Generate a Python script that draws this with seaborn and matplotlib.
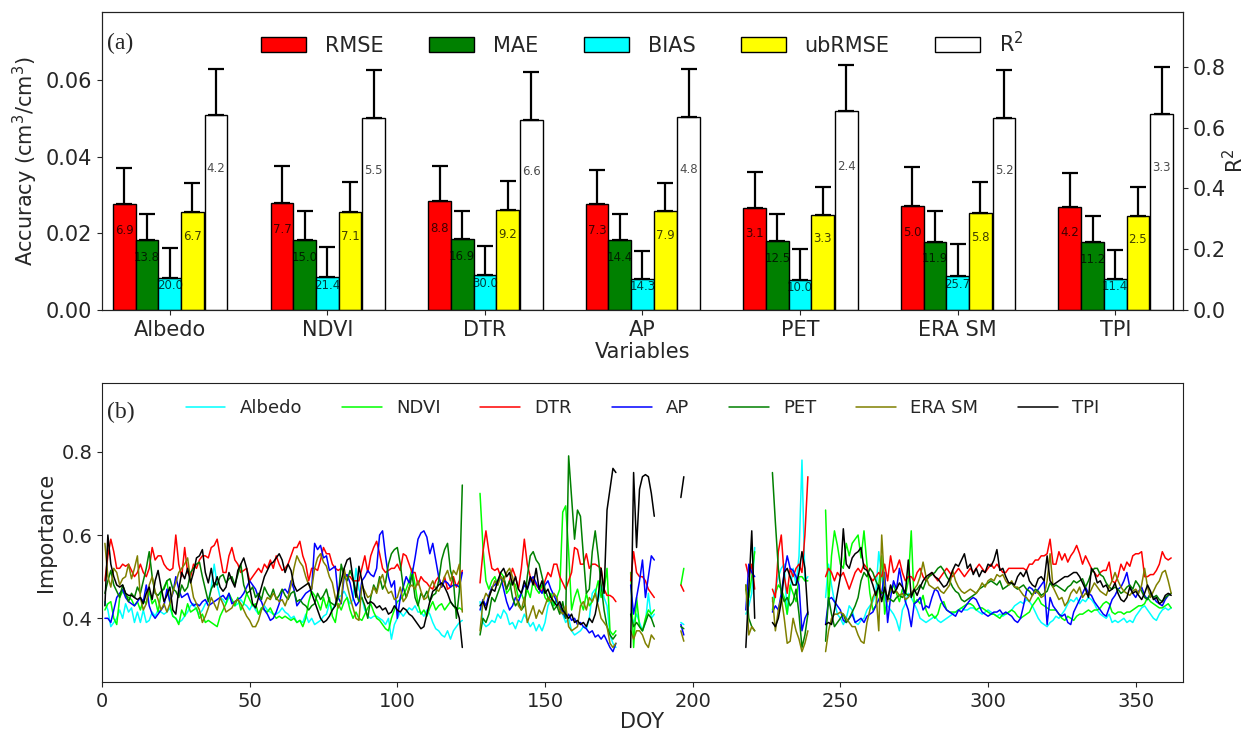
import numpy as np
import pandas as pd
import matplotlib
matplotlib.use("Agg")
import matplotlib.pyplot as plt
import seaborn as sns

sns.set_style("ticks")
plt.rcParams["font.family"] = ["DejaVu Sans"]
plt.rcParams["axes.edgecolor"] = "#222222"

# ---------------- panel (a): accuracy metrics per predictor ----------------
variables = ["Albedo", "NDVI", "DTR", "AP", "PET", "ERA SM", "TPI"]

rmse = [0.0277, 0.0280, 0.0283, 0.0277, 0.0266, 0.0271, 0.0269]
mae = [0.0183, 0.0183, 0.0185, 0.0183, 0.0180, 0.0178, 0.0177]
bias = [0.0084, 0.0086, 0.0091, 0.0080, 0.0078, 0.0089, 0.0080]
ubrmse = [0.0256, 0.0256, 0.0261, 0.0258, 0.0247, 0.0252, 0.0244]
r2 = [0.642, 0.632, 0.626, 0.635, 0.653, 0.632, 0.646]

rmse_err = [0.0094, 0.0095, 0.0092, 0.0089, 0.0095, 0.0101, 0.0089]
mae_err = [0.0067, 0.0075, 0.0073, 0.0068, 0.0070, 0.0080, 0.0067]
bias_err = [0.0077, 0.0078, 0.0075, 0.0073, 0.0081, 0.0082, 0.0076]
ubrmse_err = [0.0075, 0.0077, 0.0075, 0.0073, 0.0073, 0.0082, 0.0076]
r2_err = [0.150, 0.156, 0.157, 0.157, 0.153, 0.157, 0.153]

rmse_lbl = ["6.9", "7.7", "8.8", "7.3", "3.1", "5.0", "4.2"]
mae_lbl = ["13.8", "15.0", "16.9", "14.4", "12.5", "11.9", "11.2"]
bias_lbl = ["20.0", "21.4", "30.0", "14.3", "10.0", "25.7", "11.4"]
ubrmse_lbl = ["6.7", "7.1", "9.2", "7.9", "3.3", "5.8", "2.5"]
r2_lbl = ["4.2", "5.5", "6.6", "4.8", "2.4", "5.2", "3.3"]

# ---------------- panel (b): daily importance of each predictor ----------------
segments = [(1, 122), (128, 174), (179, 187), (196, 197), (218, 221), (227, 239), (245, 362)]

albedo = [
    [0.44, 0.42, 0.38, 0.39, 0.40, 0.42, 0.40, 0.435, 0.415, 0.425,
     0.39, 0.415, 0.39, 0.42, 0.39, 0.395, 0.415, 0.405, 0.42, 0.415,
     0.41, 0.415, 0.425, 0.405, 0.40, 0.39, 0.395, 0.405, 0.415, 0.43,
     0.435, 0.42, 0.41, 0.42, 0.435, 0.44, 0.475, 0.53, 0.48, 0.45,
     0.445, 0.435, 0.45, 0.445, 0.43, 0.435, 0.445, 0.435, 0.43, 0.42,
     0.435, 0.42, 0.41, 0.425, 0.43, 0.42, 0.415, 0.41, 0.41, 0.415,
     0.425, 0.415, 0.41, 0.40, 0.405, 0.39, 0.395, 0.39, 0.41, 0.39,
     0.40, 0.385, 0.39, 0.395, 0.405, 0.41, 0.435, 0.42, 0.435, 0.45,
     0.455, 0.465, 0.45, 0.435, 0.445, 0.52, 0.47, 0.45, 0.42, 0.405,
     0.40, 0.405, 0.405, 0.40, 0.395, 0.385, 0.40, 0.35, 0.385, 0.40,
     0.415, 0.405, 0.415, 0.425, 0.42, 0.43, 0.415, 0.415, 0.405, 0.42,
     0.41, 0.39, 0.375, 0.37, 0.36, 0.355, 0.37, 0.35, 0.37, 0.38,
     0.39, 0.395],
    [0.44, 0.39, 0.38, 0.385, 0.395, 0.39, 0.41, 0.40, 0.42, 0.41,
     0.385, 0.39, 0.375, 0.395, 0.39, 0.41, 0.395, 0.38, 0.39, 0.37,
     0.385, 0.37, 0.39, 0.43, 0.445, 0.43, 0.44, 0.42, 0.41, 0.39,
     0.40, 0.37, 0.36, 0.365, 0.37, 0.38, 0.375, 0.40, 0.46, 0.47,
     0.44, 0.48, 0.45, 0.43, 0.36, 0.34, 0.33],
    [0.41, 0.39, 0.41, 0.39, 0.37, 0.39, 0.46, 0.40, 0.41],
    [0.39, 0.385],
    [0.41, 0.43, 0.46, 0.57],
    [0.44, 0.47, 0.50, 0.52, 0.53, 0.41, 0.47, 0.52, 0.48, 0.55, 0.78, 0.49, 0.50],
    [0.45, 0.53, 0.48, 0.44, 0.41, 0.40, 0.385, 0.40, 0.43, 0.42,
     0.39, 0.385, 0.395, 0.40, 0.42, 0.43, 0.44, 0.46, 0.56, 0.50,
     0.45, 0.43, 0.42, 0.41, 0.395, 0.37, 0.42, 0.435, 0.46, 0.45,
     0.435, 0.42, 0.40, 0.395, 0.39, 0.395, 0.40, 0.405, 0.395, 0.39,
     0.395, 0.40, 0.405, 0.41, 0.415, 0.42, 0.425, 0.42, 0.42, 0.425,
     0.425, 0.42, 0.415, 0.41, 0.415, 0.42, 0.415, 0.41, 0.405, 0.41,
     0.405, 0.41, 0.415, 0.42, 0.43, 0.435, 0.44, 0.435, 0.445, 0.44,
     0.43, 0.415, 0.40, 0.39, 0.385, 0.38, 0.39, 0.395, 0.405, 0.40,
     0.41, 0.42, 0.435, 0.445, 0.44, 0.45, 0.435, 0.445, 0.44, 0.45,
     0.445, 0.435, 0.42, 0.41, 0.405, 0.40, 0.41, 0.39, 0.395, 0.39,
     0.395, 0.40, 0.39, 0.395, 0.39, 0.405, 0.415, 0.425, 0.43, 0.42,
     0.41, 0.40, 0.395, 0.41, 0.42, 0.425, 0.42, 0.425],
]

ndvi = [
    [0.42, 0.435, 0.44, 0.40, 0.385, 0.45, 0.465, 0.455, 0.45, 0.445,
     0.43, 0.44, 0.42, 0.445, 0.435, 0.465, 0.435, 0.445, 0.415, 0.46,
     0.475, 0.49, 0.435, 0.405, 0.40, 0.385, 0.42, 0.405, 0.435, 0.415,
     0.42, 0.425, 0.40, 0.41, 0.39, 0.395, 0.39, 0.385, 0.38, 0.405,
     0.42, 0.435, 0.46, 0.445, 0.43, 0.45, 0.42, 0.435, 0.46, 0.445,
     0.43, 0.435, 0.41, 0.425, 0.42, 0.415, 0.425, 0.41, 0.40, 0.405,
     0.40, 0.405, 0.40, 0.395, 0.40, 0.39, 0.395, 0.38, 0.40, 0.44,
     0.465, 0.455, 0.44, 0.42, 0.45, 0.425, 0.45, 0.405, 0.39, 0.435,
     0.42, 0.44, 0.45, 0.42, 0.40, 0.415, 0.40, 0.395, 0.41, 0.425,
     0.435, 0.415, 0.40, 0.395, 0.385, 0.375, 0.37, 0.40, 0.42, 0.44,
     0.445, 0.455, 0.47, 0.49, 0.52, 0.48, 0.435, 0.41, 0.42, 0.405,
     0.425, 0.44, 0.42, 0.43, 0.435, 0.42, 0.43, 0.44, 0.43, 0.42,
     0.425, 0.42],
    [0.70, 0.57, 0.49, 0.47, 0.49, 0.50, 0.48, 0.51, 0.50, 0.46,
     0.47, 0.49, 0.48, 0.45, 0.46, 0.44, 0.47, 0.45, 0.49, 0.47,
     0.46, 0.48, 0.45, 0.44, 0.46, 0.43, 0.45, 0.47, 0.655, 0.67,
     0.56, 0.42, 0.45, 0.47, 0.44, 0.42, 0.46, 0.43, 0.44, 0.46,
     0.49, 0.45, 0.47, 0.52, 0.37, 0.36, 0.37],
    [0.51, 0.33, 0.45, 0.38, 0.37, 0.40, 0.42, 0.41, 0.42],
    [0.48, 0.52],
    [0.47, 0.45, 0.50, 0.56],
    [0.42, 0.46, 0.48, 0.47, 0.45, 0.41, 0.48, 0.46, 0.44, 0.50, 0.50, 0.49, 0.49],
    [0.66, 0.43, 0.55, 0.61, 0.575, 0.53, 0.52, 0.58, 0.55, 0.58,
     0.59, 0.60, 0.545, 0.61, 0.53, 0.46, 0.42, 0.43, 0.48, 0.55,
     0.41, 0.45, 0.465, 0.48, 0.46, 0.44, 0.47, 0.455, 0.49, 0.61,
     0.435, 0.445, 0.435, 0.455, 0.42, 0.405, 0.41, 0.40, 0.41, 0.435,
     0.44, 0.42, 0.415, 0.415, 0.415, 0.42, 0.425, 0.43, 0.435, 0.435,
     0.43, 0.42, 0.425, 0.425, 0.42, 0.415, 0.41, 0.41, 0.405, 0.40,
     0.41, 0.41, 0.415, 0.42, 0.415, 0.405, 0.40, 0.405, 0.41, 0.415,
     0.43, 0.44, 0.45, 0.435, 0.43, 0.425, 0.42, 0.42, 0.42, 0.41,
     0.40, 0.395, 0.405, 0.40, 0.395, 0.405, 0.41, 0.41, 0.415, 0.42,
     0.415, 0.42, 0.42, 0.425, 0.435, 0.44, 0.435, 0.415, 0.41, 0.415,
     0.415, 0.41, 0.415, 0.415, 0.42, 0.425, 0.43, 0.43, 0.435, 0.45,
     0.44, 0.435, 0.43, 0.425, 0.425, 0.43, 0.435, 0.425],
]

dtr = [
    [0.49, 0.55, 0.59, 0.56, 0.52, 0.52, 0.53, 0.525, 0.53, 0.515,
     0.50, 0.51, 0.53, 0.51, 0.50, 0.52, 0.57, 0.54, 0.55, 0.55,
     0.53, 0.52, 0.515, 0.52, 0.60, 0.53, 0.50, 0.57, 0.51, 0.50,
     0.53, 0.52, 0.54, 0.55, 0.55, 0.545, 0.57, 0.575, 0.59, 0.55,
     0.51, 0.51, 0.55, 0.57, 0.54, 0.53, 0.51, 0.515, 0.52, 0.49,
     0.50, 0.51, 0.52, 0.51, 0.53, 0.52, 0.54, 0.52, 0.55, 0.53,
     0.515, 0.52, 0.53, 0.55, 0.57, 0.57, 0.585, 0.55, 0.53, 0.49,
     0.52, 0.52, 0.515, 0.54, 0.57, 0.555, 0.555, 0.53, 0.52, 0.515,
     0.52, 0.51, 0.50, 0.50, 0.49, 0.49, 0.49, 0.52, 0.55, 0.51,
     0.55, 0.57, 0.585, 0.555, 0.52, 0.51, 0.515, 0.52, 0.52, 0.53,
     0.515, 0.555, 0.55, 0.53, 0.51, 0.51, 0.48, 0.50, 0.49, 0.485,
     0.475, 0.47, 0.49, 0.50, 0.475, 0.50, 0.47, 0.475, 0.50, 0.475,
     0.49, 0.515],
    [0.485, 0.56, 0.61, 0.56, 0.52, 0.515, 0.52, 0.50, 0.49, 0.47,
     0.49, 0.52, 0.50, 0.47, 0.52, 0.59, 0.53, 0.50, 0.49, 0.48,
     0.47, 0.465, 0.49, 0.51, 0.50, 0.53, 0.53, 0.50, 0.485, 0.47,
     0.49, 0.51, 0.57, 0.565, 0.53, 0.53, 0.555, 0.52, 0.53, 0.53,
     0.525, 0.52, 0.47, 0.455, 0.455, 0.45, 0.44],
    [0.49, 0.56, 0.51, 0.50, 0.50, 0.49, 0.47, 0.46, 0.45],
    [0.48, 0.465],
    [0.53, 0.50, 0.53, 0.47],
    [0.47, 0.45, 0.56, 0.60, 0.50, 0.46, 0.52, 0.50, 0.52, 0.53, 0.51, 0.60, 0.74],
    [0.50, 0.52, 0.51, 0.49, 0.51, 0.50, 0.51, 0.49, 0.47, 0.49,
     0.51, 0.52, 0.51, 0.53, 0.52, 0.50, 0.49, 0.50, 0.51, 0.50,
     0.53, 0.49, 0.55, 0.51, 0.52, 0.54, 0.51, 0.49, 0.50, 0.50,
     0.49, 0.51, 0.52, 0.50, 0.49, 0.50, 0.51, 0.50, 0.49, 0.50,
     0.51, 0.52, 0.51, 0.50, 0.51, 0.52, 0.51, 0.50, 0.51, 0.52,
     0.51, 0.52, 0.53, 0.52, 0.51, 0.52, 0.53, 0.52, 0.53, 0.52,
     0.51, 0.51, 0.52, 0.52, 0.52, 0.52, 0.52, 0.52, 0.515, 0.53,
     0.53, 0.54, 0.54, 0.55, 0.55, 0.555, 0.59, 0.53, 0.53, 0.56,
     0.54, 0.555, 0.535, 0.55, 0.56, 0.575, 0.555, 0.53, 0.55, 0.535,
     0.52, 0.51, 0.50, 0.51, 0.515, 0.515, 0.535, 0.49, 0.485, 0.50,
     0.53, 0.515, 0.535, 0.525, 0.55, 0.555, 0.555, 0.56, 0.50, 0.50,
     0.505, 0.505, 0.515, 0.53, 0.56, 0.545, 0.54, 0.545],
]

ap = [
    [0.40, 0.40, 0.39, 0.42, 0.45, 0.46, 0.47, 0.45, 0.44, 0.435,
     0.43, 0.44, 0.45, 0.44, 0.48, 0.43, 0.41, 0.40, 0.41, 0.42,
     0.43, 0.47, 0.44, 0.46, 0.50, 0.47, 0.45, 0.455, 0.46, 0.44,
     0.43, 0.435, 0.43, 0.44, 0.445, 0.43, 0.435, 0.44, 0.445, 0.45,
     0.455, 0.445, 0.46, 0.435, 0.44, 0.445, 0.45, 0.46, 0.475, 0.49,
     0.48, 0.47, 0.45, 0.44, 0.42, 0.41, 0.395, 0.40, 0.415, 0.435,
     0.465, 0.47, 0.46, 0.49, 0.47, 0.43, 0.44, 0.45, 0.46, 0.465,
     0.47, 0.58, 0.565, 0.575, 0.545, 0.55, 0.515, 0.52, 0.525, 0.45,
     0.435, 0.50, 0.505, 0.485, 0.45, 0.43, 0.44, 0.49, 0.50, 0.515,
     0.505, 0.50, 0.52, 0.60, 0.61, 0.55, 0.50, 0.475, 0.49, 0.40,
     0.45, 0.475, 0.50, 0.485, 0.505, 0.545, 0.59, 0.605, 0.61, 0.595,
     0.555, 0.58, 0.54, 0.50, 0.475, 0.49, 0.485, 0.475, 0.48, 0.48,
     0.475, 0.51],
    [0.42, 0.445, 0.43, 0.455, 0.475, 0.48, 0.49, 0.50, 0.47, 0.44,
     0.42, 0.43, 0.45, 0.44, 0.46, 0.48, 0.47, 0.49, 0.50, 0.485,
     0.47, 0.46, 0.48, 0.49, 0.47, 0.455, 0.44, 0.43, 0.415, 0.40,
     0.41, 0.395, 0.40, 0.385, 0.39, 0.38, 0.375, 0.365, 0.37, 0.355,
     0.36, 0.35, 0.36, 0.345, 0.33, 0.32, 0.34],
    [0.48, 0.41, 0.45, 0.49, 0.54, 0.45, 0.50, 0.55, 0.54],
    [0.385, 0.36],
    [0.42, 0.53, 0.51, 0.50],
    [0.415, 0.43, 0.42, 0.46, 0.51, 0.55, 0.52, 0.515, 0.50, 0.48, 0.37, 0.40, 0.415],
    [0.385, 0.445, 0.45, 0.44, 0.43, 0.42, 0.395, 0.39, 0.40, 0.41,
     0.39, 0.395, 0.40, 0.39, 0.405, 0.41, 0.415, 0.43, 0.445, 0.46,
     0.51, 0.39, 0.45, 0.49, 0.47, 0.52, 0.48, 0.44, 0.42, 0.38,
     0.435, 0.44, 0.45, 0.42, 0.43, 0.425, 0.45, 0.47, 0.465, 0.445,
     0.43, 0.42, 0.415, 0.41, 0.405, 0.42, 0.415, 0.425, 0.435, 0.445,
     0.45, 0.445, 0.43, 0.415, 0.41, 0.405, 0.41, 0.415, 0.415, 0.42,
     0.41, 0.415, 0.41, 0.405, 0.395, 0.39, 0.40, 0.43, 0.465, 0.475,
     0.47, 0.46, 0.47, 0.48, 0.49, 0.385, 0.45, 0.43, 0.42, 0.41,
     0.405, 0.41, 0.39, 0.385, 0.415, 0.43, 0.445, 0.46, 0.475, 0.46,
     0.455, 0.44, 0.43, 0.42, 0.41, 0.405, 0.425, 0.445, 0.455, 0.47,
     0.475, 0.49, 0.51, 0.475, 0.46, 0.45, 0.465, 0.475, 0.455, 0.445,
     0.46, 0.45, 0.44, 0.435, 0.43, 0.445, 0.455, 0.46],
]

pet = [
    [0.46, 0.49, 0.515, 0.48, 0.465, 0.45, 0.48, 0.46, 0.44, 0.46,
     0.45, 0.475, 0.46, 0.49, 0.52, 0.56, 0.50, 0.46, 0.455, 0.465,
     0.47, 0.49, 0.495, 0.47, 0.465, 0.45, 0.48, 0.465, 0.475, 0.51,
     0.52, 0.53, 0.535, 0.50, 0.47, 0.44, 0.47, 0.485, 0.48, 0.50,
     0.505, 0.485, 0.495, 0.50, 0.48, 0.505, 0.53, 0.48, 0.46, 0.465,
     0.475, 0.45, 0.46, 0.445, 0.475, 0.46, 0.45, 0.47, 0.445, 0.455,
     0.47, 0.455, 0.445, 0.46, 0.465, 0.44, 0.445, 0.435, 0.43, 0.42,
     0.43, 0.435, 0.46, 0.445, 0.455, 0.47, 0.44, 0.435, 0.43, 0.45,
     0.53, 0.50, 0.49, 0.515, 0.495, 0.465, 0.44, 0.45, 0.43, 0.40,
     0.45, 0.48, 0.465, 0.50, 0.47, 0.485, 0.53, 0.555, 0.565, 0.57,
     0.53, 0.475, 0.45, 0.47, 0.505, 0.45, 0.43, 0.46, 0.45, 0.465,
     0.44, 0.455, 0.46, 0.49, 0.54, 0.565, 0.58, 0.515, 0.49, 0.40,
     0.465, 0.72],
    [0.36, 0.40, 0.39, 0.41, 0.45, 0.44, 0.46, 0.48, 0.50, 0.47,
     0.49, 0.45, 0.43, 0.44, 0.42, 0.43, 0.50, 0.55, 0.56, 0.54,
     0.53, 0.50, 0.47, 0.45, 0.44, 0.42, 0.43, 0.41, 0.44, 0.40,
     0.79, 0.69, 0.59, 0.66, 0.645, 0.55, 0.46, 0.47, 0.56, 0.61,
     0.55, 0.48, 0.42, 0.38, 0.36, 0.35, 0.36],
    [0.41, 0.38, 0.39, 0.38, 0.37, 0.39, 0.41, 0.40, 0.38],
    [0.38, 0.375],
    [0.48, 0.40, 0.38, 0.37],
    [0.75, 0.63, 0.52, 0.46, 0.44, 0.45, 0.43, 0.44, 0.47, 0.41, 0.33, 0.36, 0.41],
    [0.345, 0.45, 0.41, 0.38, 0.39, 0.40, 0.41, 0.39, 0.40, 0.415,
     0.43, 0.45, 0.49, 0.51, 0.50, 0.52, 0.51, 0.49, 0.475, 0.46,
     0.465, 0.45, 0.445, 0.44, 0.45, 0.455, 0.45, 0.46, 0.455, 0.46,
     0.465, 0.47, 0.48, 0.47, 0.49, 0.50, 0.505, 0.51, 0.52, 0.525,
     0.515, 0.50, 0.49, 0.475, 0.465, 0.46, 0.445, 0.44, 0.445, 0.45,
     0.455, 0.46, 0.47, 0.475, 0.48, 0.485, 0.49, 0.485, 0.48, 0.49,
     0.47, 0.475, 0.48, 0.485, 0.475, 0.47, 0.475, 0.48, 0.47, 0.465,
     0.455, 0.47, 0.465, 0.455, 0.46, 0.465, 0.485, 0.475, 0.48, 0.475,
     0.47, 0.465, 0.475, 0.48, 0.49, 0.485, 0.49, 0.495, 0.475, 0.49,
     0.51, 0.52, 0.52, 0.505, 0.50, 0.485, 0.475, 0.47, 0.475, 0.47,
     0.46, 0.465, 0.475, 0.48, 0.47, 0.49, 0.48, 0.465, 0.45, 0.445,
     0.46, 0.45, 0.455, 0.445, 0.44, 0.45, 0.455, 0.46],
]

era_sm = [
    [0.58, 0.50, 0.475, 0.52, 0.51, 0.48, 0.495, 0.50, 0.53, 0.495,
     0.52, 0.55, 0.45, 0.42, 0.435, 0.48, 0.50, 0.465, 0.445, 0.42,
     0.435, 0.415, 0.435, 0.465, 0.485, 0.51, 0.52, 0.53, 0.545, 0.49,
     0.45, 0.435, 0.42, 0.39, 0.405, 0.425, 0.45, 0.435, 0.42, 0.45,
     0.435, 0.415, 0.42, 0.425, 0.44, 0.445, 0.435, 0.42, 0.405, 0.395,
     0.38, 0.38, 0.395, 0.42, 0.435, 0.45, 0.445, 0.46, 0.45, 0.44,
     0.445, 0.43, 0.45, 0.48, 0.52, 0.55, 0.535, 0.525, 0.50, 0.48,
     0.47, 0.52, 0.545, 0.555, 0.535, 0.525, 0.50, 0.485, 0.45, 0.425,
     0.44, 0.52, 0.48, 0.45, 0.425, 0.40, 0.395, 0.48, 0.465, 0.45,
     0.455, 0.475, 0.46, 0.49, 0.505, 0.475, 0.46, 0.465, 0.445, 0.45,
     0.475, 0.44, 0.45, 0.475, 0.48, 0.47, 0.49, 0.465, 0.445, 0.45,
     0.475, 0.49, 0.47, 0.465, 0.48, 0.50, 0.515, 0.49, 0.515, 0.505,
     0.53, 0.415],
    [0.37, 0.44, 0.46, 0.45, 0.47, 0.49, 0.48, 0.50, 0.49, 0.51,
     0.52, 0.50, 0.46, 0.43, 0.42, 0.45, 0.39, 0.41, 0.43, 0.40,
     0.42, 0.41, 0.43, 0.45, 0.44, 0.46, 0.45, 0.42, 0.41, 0.43,
     0.38, 0.37, 0.375, 0.38, 0.43, 0.44, 0.42, 0.45, 0.44, 0.46,
     0.43, 0.40, 0.39, 0.38, 0.34, 0.33, 0.34],
    [0.37, 0.35, 0.37, 0.37, 0.36, 0.34, 0.33, 0.36, 0.35],
    [0.37, 0.345],
    [0.48, 0.36, 0.38, 0.37],
    [0.45, 0.37, 0.42, 0.45, 0.40, 0.34, 0.345, 0.40, 0.37, 0.35, 0.32, 0.34, 0.37],
    [0.32, 0.37, 0.40, 0.41, 0.41, 0.415, 0.41, 0.40, 0.39, 0.38,
     0.38, 0.36, 0.345, 0.34, 0.39, 0.42, 0.45, 0.465, 0.37, 0.60,
     0.48, 0.44, 0.475, 0.46, 0.465, 0.455, 0.46, 0.445, 0.45, 0.46,
     0.47, 0.48, 0.50, 0.535, 0.50, 0.48, 0.475, 0.47, 0.475, 0.465,
     0.46, 0.47, 0.48, 0.515, 0.49, 0.475, 0.465, 0.46, 0.465, 0.47,
     0.465, 0.46, 0.47, 0.485, 0.475, 0.49, 0.495, 0.49, 0.505, 0.50,
     0.505, 0.49, 0.48, 0.49, 0.475, 0.475, 0.465, 0.455, 0.45, 0.44,
     0.455, 0.465, 0.46, 0.45, 0.455, 0.49, 0.555, 0.475, 0.46, 0.445,
     0.45, 0.43, 0.44, 0.46, 0.47, 0.46, 0.475, 0.45, 0.46, 0.455,
     0.47, 0.485, 0.475, 0.465, 0.46, 0.455, 0.475, 0.49, 0.51, 0.49,
     0.475, 0.465, 0.46, 0.455, 0.465, 0.47, 0.46, 0.48, 0.52, 0.475,
     0.45, 0.465, 0.48, 0.49, 0.51, 0.515, 0.49, 0.46],
]

tpi = [
    [0.43, 0.60, 0.53, 0.50, 0.48, 0.475, 0.48, 0.46, 0.455, 0.455,
     0.45, 0.445, 0.45, 0.435, 0.46, 0.475, 0.445, 0.49, 0.515, 0.475,
     0.44, 0.455, 0.475, 0.42, 0.41, 0.47, 0.51, 0.495, 0.52, 0.485,
     0.51, 0.545, 0.55, 0.565, 0.51, 0.485, 0.52, 0.475, 0.50, 0.475,
     0.465, 0.475, 0.51, 0.49, 0.475, 0.515, 0.53, 0.545, 0.52, 0.475,
     0.435, 0.425, 0.45, 0.475, 0.50, 0.515, 0.53, 0.535, 0.545, 0.555,
     0.54, 0.51, 0.53, 0.515, 0.48, 0.465, 0.47, 0.475, 0.48, 0.485,
     0.46, 0.44, 0.42, 0.40, 0.39, 0.395, 0.405, 0.42, 0.43, 0.465,
     0.49, 0.52, 0.54, 0.545, 0.495, 0.45, 0.525, 0.49, 0.45, 0.435,
     0.44, 0.435, 0.425, 0.43, 0.42, 0.425, 0.41, 0.415, 0.43, 0.42,
     0.415, 0.425, 0.42, 0.41, 0.405, 0.395, 0.385, 0.375, 0.38, 0.41,
     0.44, 0.465, 0.47, 0.48, 0.485, 0.475, 0.46, 0.44, 0.43, 0.425,
     0.40, 0.33],
    [0.43, 0.44, 0.42, 0.45, 0.47, 0.465, 0.49, 0.51, 0.52, 0.50,
     0.51, 0.48, 0.50, 0.47, 0.46, 0.49, 0.47, 0.50, 0.48, 0.52,
     0.47, 0.49, 0.46, 0.47, 0.45, 0.44, 0.43, 0.44, 0.42, 0.41,
     0.40, 0.41, 0.39, 0.395, 0.385, 0.39, 0.38, 0.40, 0.39, 0.41,
     0.45, 0.52, 0.46, 0.66, 0.71, 0.76, 0.75],
    [0.33, 0.75, 0.57, 0.71, 0.74, 0.745, 0.74, 0.70, 0.645],
    [0.69, 0.74],
    [0.33, 0.47, 0.61, 0.40],
    [0.39, 0.38, 0.40, 0.44, 0.51, 0.52, 0.50, 0.48, 0.48, 0.51, 0.56, 0.52, 0.41],
    [0.385, 0.39, 0.385, 0.42, 0.46, 0.50, 0.615, 0.53, 0.52, 0.545,
     0.555, 0.56, 0.57, 0.52, 0.515, 0.50, 0.48, 0.455, 0.48, 0.44,
     0.475, 0.445, 0.48, 0.46, 0.47, 0.485, 0.475, 0.46, 0.54, 0.45,
     0.47, 0.455, 0.475, 0.49, 0.50, 0.505, 0.51, 0.50, 0.495, 0.485,
     0.475, 0.48, 0.495, 0.515, 0.53, 0.525, 0.54, 0.555, 0.52, 0.53,
     0.505, 0.52, 0.50, 0.515, 0.51, 0.53, 0.525, 0.54, 0.565, 0.515,
     0.52, 0.50, 0.485, 0.485, 0.48, 0.50, 0.51, 0.50, 0.515, 0.49,
     0.48, 0.475, 0.495, 0.50, 0.49, 0.55, 0.49, 0.48, 0.485, 0.49,
     0.495, 0.50, 0.50, 0.505, 0.51, 0.51, 0.50, 0.485, 0.47, 0.45,
     0.52, 0.51, 0.485, 0.49, 0.475, 0.48, 0.465, 0.47, 0.485, 0.46,
     0.445, 0.44, 0.45, 0.475, 0.46, 0.465, 0.455, 0.445, 0.46, 0.48,
     0.465, 0.445, 0.45, 0.435, 0.44, 0.455, 0.46, 0.455],
]

line_names = ["Albedo", "NDVI", "DTR", "AP", "PET", "ERA SM", "TPI"]
line_colors = ["cyan", "lime", "red", "blue", "green", "olive", "black"]
line_values = [albedo, ndvi, dtr, ap, pet, era_sm, tpi]

# long table: one row per variable / segment / day
records = []
for name, segs in zip(line_names, line_values):
    for k, ((d0, d1), vals) in enumerate(zip(segments, segs)):
        assert len(vals) == d1 - d0 + 1, (name, k, len(vals))
        for d, v in zip(range(d0, d1 + 1), vals):
            records.append((name, k, d, v))
imp = pd.DataFrame(records, columns=["variable", "segment", "DOY", "importance"])

# ---------------- figure ----------------
fig = plt.figure(figsize=(12.48, 7.34), dpi=100)
ax1 = fig.add_axes([0.0817, 0.5777, 0.8662, 0.406])
ax1r = ax1.twinx()
ax2 = fig.add_axes([0.0817, 0.0708, 0.8662, 0.4074])

x = np.arange(len(variables))
w = 0.144
left_metrics = [
    ("RMSE", rmse, rmse_err, rmse_lbl, "red"),
    ("MAE", mae, mae_err, mae_lbl, "green"),
    ("BIAS", bias, bias_err, bias_lbl, "cyan"),
    ("ubRMSE", ubrmse, ubrmse_err, ubrmse_lbl, "yellow"),
]
err_kw = dict(fmt="none", ecolor="black", elinewidth=1.6, capsize=5.5, capthick=1.6)
handles = []
for i, (name, vals, errs, lbls, col) in enumerate(left_metrics):
    xs = x + (i - 2) * w
    h = ax1.bar(xs, vals, width=w, color=col, edgecolor="black", linewidth=1.0, label=name)
    handles.append(h)
    ax1.errorbar(xs, vals, yerr=[np.zeros(len(vals)), errs], **err_kw)
    for xi, v, t in zip(xs, vals, lbls):
        ax1.text(xi, v * 0.75, t, ha="center", va="center", fontsize=8.5,
                 color="black", alpha=0.75)

xs = x + 2 * w + 0.006
h = ax1r.bar(xs, r2, width=w, color="white", edgecolor="black", linewidth=1.0, label="R$^2$")
handles.append(h)
ax1r.errorbar(xs, r2, yerr=[np.zeros(len(r2)), r2_err], **err_kw)
for xi, v, t in zip(xs, r2, r2_lbl):
    ax1r.text(xi, v * 0.725, t, ha="center", va="center", fontsize=8.5,
              color="black", alpha=0.7)

ax1.set_xlim(-0.43, 6.43)
ax1.set_ylim(0, 0.0777)
ax1r.set_ylim(0, 0.98)
ax1.set_xticks(x)
ax1.set_xticklabels(variables, fontsize=15)
ax1.set_yticks([0.0, 0.02, 0.04, 0.06])
ax1.set_yticklabels(["0.00", "0.02", "0.04", "0.06"], fontsize=15)
ax1r.set_yticks([0.0, 0.2, 0.4, 0.6, 0.8])
ax1r.set_yticklabels(["0.0", "0.2", "0.4", "0.6", "0.8"], fontsize=15)
ax1.set_ylabel("Accuracy (cm$^3$/cm$^3$)", fontsize=15)
ax1r.set_ylabel("R$^2$", fontsize=15, labelpad=-3)
ax1.set_xlabel("Variables", fontsize=15, labelpad=2)
ax1r.legend(handles, [m[0] for m in left_metrics] + ["R$^2$"], loc="upper center",
            ncol=5, frameon=False, fontsize=15, handlelength=2.15,
            columnspacing=2.2, handletextpad=0.9)
ax1.text(0.005, 0.895, "(a)", transform=ax1.transAxes, fontsize=17,
         family="Liberation Serif", va="center")

sns.lineplot(data=imp, x="DOY", y="importance", hue="variable", units="segment",
             estimator=None, hue_order=line_names, palette=line_colors,
             linewidth=1.1, ax=ax2)
ax2.set_xlim(0, 366)
ax2.set_ylim(0.247, 0.965)
ax2.set_xticks(range(0, 351, 50))
ax2.set_yticks([0.4, 0.6, 0.8])
ax2.tick_params(labelsize=14)
ax2.set_xlabel("DOY", fontsize=15, labelpad=1)
ax2.set_ylabel("Importance", fontsize=15)
lh, ll = ax2.get_legend_handles_labels()
ax2.legend(lh, ll, loc="upper center", ncol=7, frameon=False, fontsize=13,
           handlelength=2.2, columnspacing=2.2, handletextpad=0.8)
ax2.text(0.005, 0.9, "(b)", transform=ax2.transAxes, fontsize=17,
         family="Liberation Serif", va="center")

fig.savefig("out.png", dpi=100)
